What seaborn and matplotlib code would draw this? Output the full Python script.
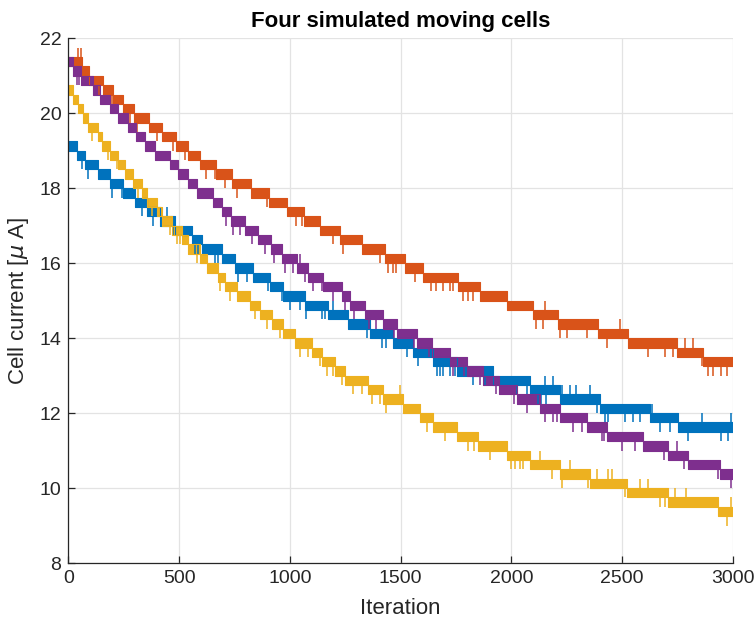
import numpy as np
import pandas as pd
import matplotlib
matplotlib.use("Agg")
import matplotlib.pyplot as plt
import seaborn as sns

# Quantisation step of the current readout [uA] and run length
STEP = 0.25
ITER_END = 3000

# Each cell: iteration where a readout band starts, and the band's upper level
blue_starts = [0, 38, 75, 135, 188, 248, 301, 357, 414, 480, 557, 602, 692, 752, 835,
               910, 970, 1068, 1173, 1264, 1361, 1467, 1557, 1647, 1753, 1918, 2083,
               2219, 2400, 2625, 2753]
blue_tops = [19.25, 19.0, 18.75, 18.5, 18.25, 18.0, 17.75, 17.5, 17.25, 17.0, 16.75,
             16.5, 16.25, 16.0, 15.75, 15.5, 15.25, 15.0, 14.75, 14.5, 14.25, 14.0,
             13.75, 13.5, 13.25, 13.0, 12.75, 12.5, 12.25, 12.0, 11.75]
blue_dips = [60, 90, 196, 241, 331, 384, 474, 571, 586, 662, 677, 767, 805, 903, 963,
             1000, 1046, 1075, 1143, 1158, 1346, 1414, 1436, 1527, 1579, 1662, 1677,
             1692, 1722, 1745, 1827, 1880, 2023, 2068, 2120, 2135, 2158, 2384, 2422,
             2437, 2512, 2550, 2580, 2670, 2715, 2798, 2948, 2978]
blue_spikes = [444, 1196, 2151, 2188, 2230, 2264, 2293, 2354, 2633, 2858, 2993]

orange_starts = [0, 62, 95, 155, 200, 248, 297, 366, 421, 486, 539, 594, 667, 737, 823,
                 905, 985, 1065, 1136, 1226, 1324, 1429, 1519, 1602, 1760, 1858, 1978,
                 2098, 2211, 2392, 2527, 2745, 2866]
orange_tops = [21.5, 21.25, 21.0, 20.75, 20.5, 20.25, 20.0, 19.75, 19.5, 19.25, 19.0,
               18.75, 18.5, 18.25, 18.0, 17.75, 17.5, 17.25, 17.0, 16.75, 16.5, 16.25,
               16.0, 15.75, 15.5, 15.25, 15.0, 14.75, 14.5, 14.25, 14.0, 13.75, 13.5]
orange_dips = [140, 196, 278, 311, 399, 474, 527, 621, 662, 707, 760, 895, 1030, 1053,
               1196, 1238, 1406, 1444, 1466, 1481, 1564, 1639, 1661, 1692, 1722, 1737,
               1782, 1805, 1827, 2113, 2143, 2220, 2249, 2339, 2430, 2617, 2693, 2730,
               2858, 2888, 2911, 2948, 2971]
orange_spikes = [0, 45, 56, 2151, 2490, 2783, 2821]

yellow_starts = [0, 23, 45, 68, 90, 133, 151, 188, 226, 256, 290, 331, 357, 399, 421,
                 467, 512, 542, 594, 624, 677, 707, 760, 820, 865, 918, 970, 1023, 1098,
                 1143, 1204, 1249, 1354, 1422, 1510, 1587, 1647, 1753, 1851, 1978, 2083,
                 2219, 2354, 2520, 2708, 2933]
yellow_tops = [20.75, 20.5, 20.25, 20.0, 19.75, 19.5, 19.25, 19.0, 18.75, 18.5, 18.25,
               18.0, 17.75, 17.5, 17.25, 17.0, 16.75, 16.5, 16.25, 16.0, 15.75, 15.5,
               15.25, 15.0, 14.75, 14.5, 14.25, 14.0, 13.75, 13.5, 13.25, 13.0, 12.75,
               12.5, 12.25, 12.0, 11.75, 11.5, 11.25, 11.0, 10.75, 10.5, 10.25, 10.0,
               9.75, 9.5]
yellow_dips = [105, 180, 218, 316, 376, 459, 489, 504, 579, 685, 730, 843, 895, 955,
               1046, 1084, 1136, 1166, 1196, 1234, 1286, 1324, 1369, 1406, 1436, 1617,
               1700, 1805, 1830, 1903, 2000, 2016, 2038, 2053, 2181, 2226, 2346, 2512,
               2670, 2693, 2971]
yellow_spikes = [1497, 2128, 2264, 2384, 2437, 2452, 2580, 2617, 2738, 2790, 2993]

purple_starts = [0, 23, 57, 113, 143, 188, 226, 271, 306, 346, 391, 459, 497, 542, 579,
                 654, 696, 733, 797, 857, 915, 963, 1031, 1084, 1151, 1234, 1271, 1339,
                 1422, 1482, 1572, 1640, 1722, 1798, 1873, 1944, 2023, 2130, 2219, 2339,
                 2430, 2595, 2708, 2798, 2941]
purple_tops = [21.5, 21.25, 21.0, 20.75, 20.5, 20.25, 20.0, 19.75, 19.5, 19.25, 19.0,
               18.75, 18.5, 18.25, 18.0, 17.75, 17.5, 17.25, 17.0, 16.75, 16.5, 16.25,
               16.0, 15.75, 15.5, 15.25, 15.0, 14.75, 14.5, 14.25, 14.0, 13.75, 13.5,
               13.25, 13.0, 12.75, 12.5, 12.25, 12.0, 11.75, 11.5, 11.25, 11.0, 10.75,
               10.5]
purple_dips = [38, 47, 710, 745, 776, 829, 888, 930, 978, 1016, 1068, 1105, 1143, 1196,
               1250, 1290, 1355, 1391, 1470, 1560, 1630, 1737, 1785, 1860, 1930, 2010,
               2068, 2151, 2188, 2205, 2279, 2320, 2407, 2420, 2497, 2557, 2690, 2780,
               2930, 2993]
purple_spikes = [1046, 2745]

CELLS = [
    ("Cell 1", blue_starts, blue_tops, blue_dips, blue_spikes, "#0072BD"),
    ("Cell 2", orange_starts, orange_tops, orange_dips, orange_spikes, "#D95319"),
    ("Cell 3", yellow_starts, yellow_tops, yellow_dips, yellow_spikes, "#EDB120"),
    ("Cell 4", purple_starts, purple_tops, purple_dips, purple_spikes, "#7E2F8E"),
]

sns.set_style("white")
plt.rcParams["font.family"] = ["Liberation Sans", "DejaVu Sans"]
plt.rcParams["mathtext.fontset"] = "dejavusans"

AX_COLOR = "#262626"

fig = plt.figure(figsize=(7.56, 6.29), dpi=100)
ax = fig.add_axes([0.0903, 0.1049, 0.8793, 0.8342])

for name, starts, tops, dips, spikes, color in CELLS:
    starts = np.asarray(starts, dtype=float)
    tops = np.asarray(tops, dtype=float)
    # band edges: the readout flickers between the upper and lower level
    edges = np.append(starts, ITER_END)
    upper = np.append(tops, tops[-1])
    ax.fill_between(edges, upper - STEP, upper, step="post", color=color, lw=0)
    df = pd.DataFrame({"Iteration": edges, "upper": upper, "lower": upper - STEP})
    for col in ("upper", "lower"):
        sns.lineplot(data=df, x="Iteration", y=col, ax=ax, color=color,
                     drawstyle="steps-post", estimator=None, lw=0.8)
    # isolated excursions one level below / above the current band
    d = np.asarray(dips, dtype=float)
    idx = np.searchsorted(starts, d, side="right") - 1
    ax.vlines(d, tops[idx] - 2 * STEP, tops[idx] - STEP, color=color, lw=1.1)
    s = np.asarray(spikes, dtype=float)
    idx = np.searchsorted(starts, s, side="right") - 1
    ax.vlines(s, tops[idx], tops[idx] + STEP, color=color, lw=1.1)

ax.set_xlim(0, 3000)
ax.set_ylim(8, 22)
ax.set_xticks(np.arange(0, 3001, 500))
ax.set_yticks(np.arange(8, 22.1, 2))
ax.grid(True, color="#E3E3E3", lw=0.9)
ax.set_axisbelow(True)
for side in ("top", "right"):
    ax.spines[side].set_visible(False)
for side in ("left", "bottom"):
    ax.spines[side].set_color(AX_COLOR)
    ax.spines[side].set_linewidth(0.9)
ax.tick_params(direction="in", length=5, width=0.9, colors=AX_COLOR,
               labelsize=14, left=True, bottom=True, pad=5)

ax.set_xlabel("Iteration", fontsize=16, color=AX_COLOR, labelpad=8)
ax.set_ylabel(r"Cell current [$\mu$ A]", fontsize=16, color=AX_COLOR, labelpad=6)
ax.set_title("Four simulated moving cells", fontsize=16, fontweight="bold",
             color="black", pad=8)

fig.savefig("out.png", dpi=100)
